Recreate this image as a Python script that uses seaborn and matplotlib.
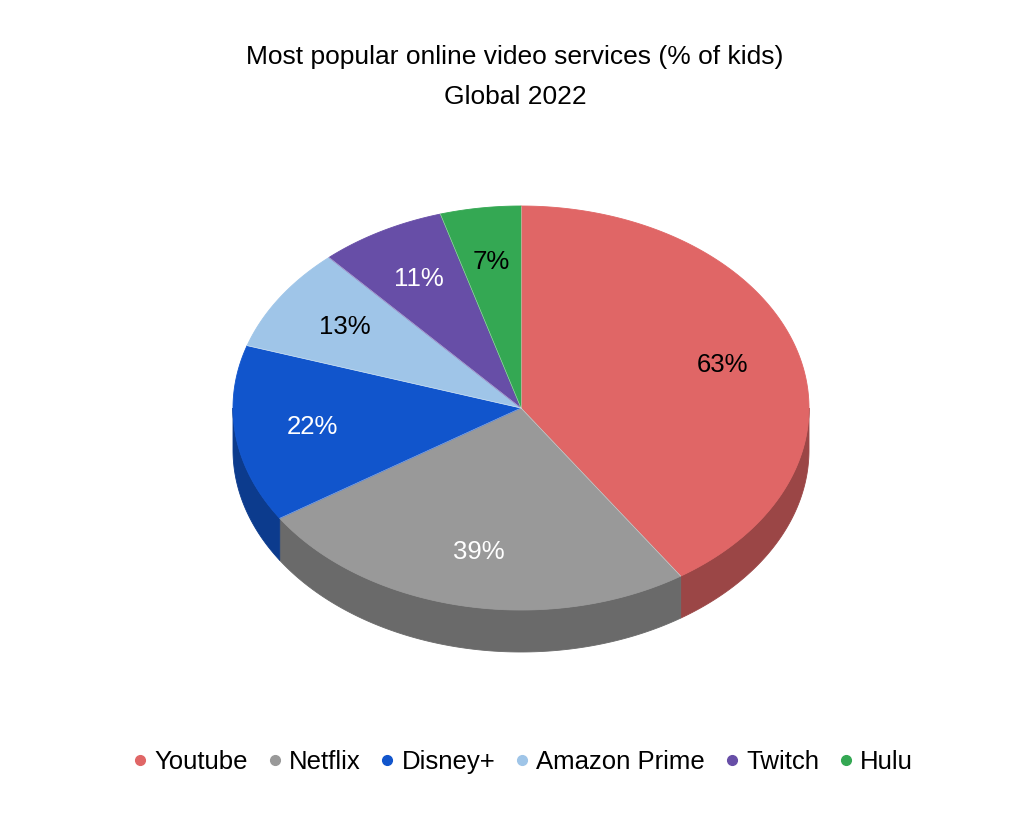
import numpy as np
import seaborn as sns
import matplotlib.pyplot as plt
from matplotlib.patches import Polygon
from matplotlib.lines import Line2D

# chart data
services = ['Youtube', 'Netflix', 'Disney+', 'Amazon Prime', 'Twitch', 'Hulu']
share = [63, 39, 22, 13, 11, 7]
title_lines = ['Most popular online video services (% of kids)', 'Global 2022']

# styling
top_colors = sns.color_palette(['#E06666', '#999999', '#1155CC', '#9FC5E8', '#674EA7', '#34A853'])
label_colors = ['black', 'white', 'white', 'black', 'white', 'black']

sns.set_theme(style='white')
plt.rcParams['font.family'] = ['Liberation Sans', 'DejaVu Sans']
plt.rcParams['text.color'] = 'black'

W, H = 1030, 819
fig = plt.figure(figsize=(W / 100, H / 100), dpi=100)
ax = fig.add_axes([0, 0, 1, 1])
ax.set_xlim(0, W)
ax.set_ylim(H, 0)
ax.axis('off')

# ellipse geometry (pixel units)
cx, cy, rx, ry, depth = 521, 408, 288, 202, 42


def arc(t0, t1, n=200, dy=0):
    t = np.radians(np.linspace(t0, t1, n))
    return np.column_stack([cx + rx * np.cos(t), cy - ry * np.sin(t) + dy])


total = sum(share)
spans = [v / total * 360 for v in share]
starts = 90 - np.concatenate([[0], np.cumsum(spans)[:-1]])
ends = starts - np.array(spans)

# side walls (front half only)
for s, e, col in zip(starts, ends, top_colors):
    hi, lo = min(s, 0), max(e, -180)
    if lo >= hi:
        continue
    top = arc(hi, lo)
    bot = arc(lo, hi, dy=depth)
    dark = tuple(c * 0.69 for c in col)
    ax.add_patch(Polygon(np.vstack([top, bot]), closed=True, fc=dark, ec=dark, lw=0.6))

# top face
for s, e, col in zip(starts, ends, top_colors):
    pts = np.vstack([[cx, cy], arc(s, e)])
    ax.add_patch(Polygon(pts, closed=True, fc=col, ec=col, lw=0.6))
# thin separators
for s in starts:
    t = np.radians(s)
    ax.plot([cx, cx + rx * np.cos(t)], [cy, cy - ry * np.sin(t)], color='white', lw=0.4, alpha=0.6)

# percentage labels
for s, e, v, tc in zip(starts, ends, share, label_colors):
    m = np.radians((s + e) / 2)
    f = 0.73
    ax.text(cx + rx * f * np.cos(m), cy - ry * f * np.sin(m), f'{v}%',
            ha='center', va='center', fontsize=18.5, color=tc)

fig.text(0.5, 1 - 57 / H, title_lines[0], ha='center', va='center', fontsize=19, color='black')
fig.text(0.5, 1 - 97 / H, title_lines[1], ha='center', va='center', fontsize=19, color='black')

handles = [Line2D([], [], marker='o', ls='', markersize=7, markerfacecolor=c, markeredgecolor=c)
           for c in top_colors]
fig.legend(handles, services, loc='center', bbox_to_anchor=(0.505, 1 - 762 / H), ncol=6,
           frameon=False, fontsize=18.5, handletextpad=0.05, columnspacing=0.55, handlelength=1.0,
           labelcolor='black')

fig.savefig('out.png', dpi=100, facecolor='white')
